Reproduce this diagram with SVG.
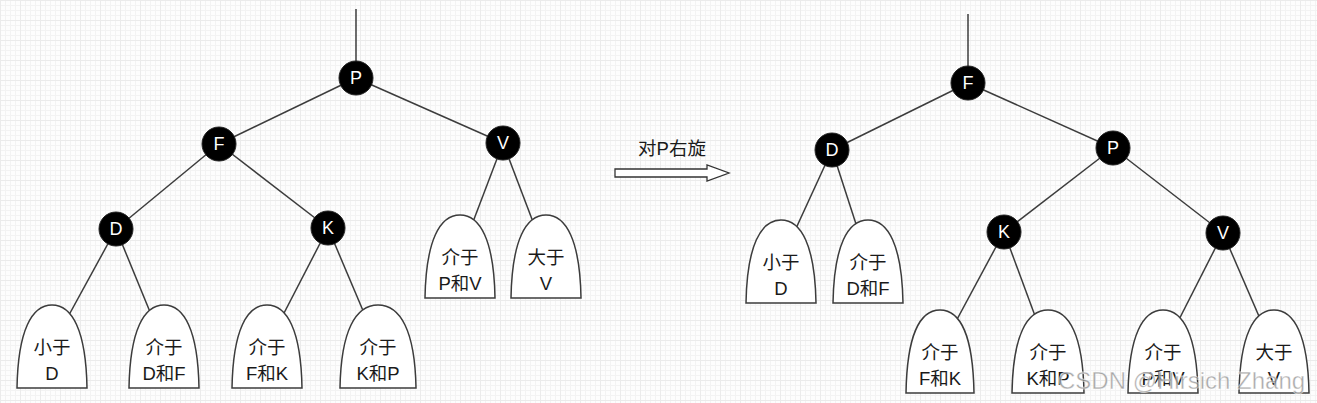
<svg xmlns="http://www.w3.org/2000/svg" width="1317" height="403" viewBox="0 0 1317 403">
  <defs>
    <pattern id="grid" width="20" height="20" patternUnits="userSpaceOnUse">
      <path d="M0 0.5H20M0 5.5H20M0 10.5H20M0 15.5H20M0.5 0V20M5.5 0V20M10.5 0V20M15.5 0V20" stroke="#f3f3f3" stroke-width="1" fill="none"/>
      <path d="M0 0.5H20M0.5 0V20" stroke="#ebebeb" stroke-width="1" fill="none"/>
    </pattern>
    <style>
      .edge { stroke: #3c3c3c; stroke-width: 1.5; fill: none; }
      .circ { fill: #000; stroke: #222; stroke-width: 1; }
      .clabel { fill: #fff; font-family: "Liberation Sans", "Noto Sans CJK SC", sans-serif; font-size: 18px; text-anchor: middle; dominant-baseline: central; }
      .leaf { fill: #fff; stroke: #3c3c3c; stroke-width: 1.5; }
      .ltext { fill: #1a1a1a; font-family: "Liberation Sans", "Noto Sans CJK SC", sans-serif; font-size: 18.5px; text-anchor: middle; dominant-baseline: central; }
      .wm { fill: #8a8a8a; fill-opacity: 0.75; font-family: "Liberation Sans", "Noto Sans CJK SC", sans-serif; font-size: 24px; }
    </style>
  </defs>
  <rect width="1317" height="403" fill="#fdfdfd"/>
  <rect width="1317" height="403" fill="url(#grid)"/>

  <g id="connectors">
    <!-- left tree -->
    <line class="edge" x1="356" y1="9" x2="356" y2="78"/>
    <line class="edge" x1="356" y1="78" x2="219" y2="144"/>
    <line class="edge" x1="356" y1="78" x2="503" y2="143"/>
    <line class="edge" x1="219" y1="144" x2="116" y2="229"/>
    <line class="edge" x1="219" y1="144" x2="328" y2="228"/>
    <line class="edge" x1="116" y1="229" x2="52" y2="346"/>
    <line class="edge" x1="116" y1="229" x2="164" y2="346"/>
    <line class="edge" x1="328" y1="228" x2="267" y2="346"/>
    <line class="edge" x1="328" y1="228" x2="378" y2="346"/>
    <line class="edge" x1="503" y1="143" x2="460" y2="256"/>
    <line class="edge" x1="503" y1="143" x2="546" y2="256"/>
    <!-- right tree -->
    <line class="edge" x1="968" y1="14" x2="968" y2="83"/>
    <line class="edge" x1="968" y1="83" x2="832" y2="150"/>
    <line class="edge" x1="968" y1="83" x2="1113" y2="148"/>
    <line class="edge" x1="832" y1="150" x2="781" y2="261"/>
    <line class="edge" x1="832" y1="150" x2="868" y2="261"/>
    <line class="edge" x1="1113" y1="148" x2="1004" y2="232"/>
    <line class="edge" x1="1113" y1="148" x2="1223" y2="233"/>
    <line class="edge" x1="1004" y1="232" x2="940" y2="351"/>
    <line class="edge" x1="1004" y1="232" x2="1048" y2="351"/>
    <line class="edge" x1="1223" y1="233" x2="1163" y2="351"/>
    <line class="edge" x1="1223" y1="233" x2="1274" y2="351"/>
  </g>

  <!-- left tree nodes -->
  <g id="L-P"><circle class="circ" cx="356" cy="78" r="17"/><text class="clabel" x="356" y="78">P</text></g>
  <g id="L-F"><circle class="circ" cx="219" cy="144" r="17"/><text class="clabel" x="219" y="144">F</text></g>
  <g id="L-V"><circle class="circ" cx="503" cy="143" r="17"/><text class="clabel" x="503" y="143">V</text></g>
  <g id="L-D"><circle class="circ" cx="116" cy="229" r="17"/><text class="clabel" x="116" y="229">D</text></g>
  <g id="L-K"><circle class="circ" cx="328" cy="228" r="17"/><text class="clabel" x="328" y="228">K</text></g>

  <g id="L-leaf1"><path class="leaf" d="M17 388 C18 330 32 305 52 305 C72 305 86 330 87 388 Z"/><text class="ltext" x="52" y="347">小于</text><text class="ltext" x="52" y="373">D</text></g>
  <g id="L-leaf2"><path class="leaf" d="M129 388 C130 330 144 305 164 305 C184 305 198 330 199 388 Z"/><text class="ltext" x="164" y="347">介于</text><text class="ltext" x="164" y="373">D和F</text></g>
  <g id="L-leaf3"><path class="leaf" d="M232 388 C233 330 247 305 267 305 C287 305 301 330 302 388 Z"/><text class="ltext" x="267" y="347">介于</text><text class="ltext" x="267" y="373">F和K</text></g>
  <g id="L-leaf4"><path class="leaf" d="M340 388 C341 330 356 305 378 305 C400 305 415 330 416 388 Z"/><text class="ltext" x="378" y="347">介于</text><text class="ltext" x="378" y="373">K和P</text></g>
  <g id="L-leaf5"><path class="leaf" d="M425 298 C426 240 440 215 460 215 C480 215 494 240 495 298 Z"/><text class="ltext" x="460" y="257">介于</text><text class="ltext" x="460" y="283">P和V</text></g>
  <g id="L-leaf6"><path class="leaf" d="M511 298 C512 240 526 215 546 215 C566 215 580 240 581 298 Z"/><text class="ltext" x="546" y="257">大于</text><text class="ltext" x="546" y="283">V</text></g>

  <!-- arrow -->
  <g id="rotate-arrow">
    <text class="ltext" x="672" y="148">对P右旋</text>
    <path d="M615 169 H707 V165 L729 173 L707 181 V177 H615 Z" fill="#fff" stroke="#333" stroke-width="1.3"/>
  </g>

  <!-- right tree nodes -->
  <g id="R-F"><circle class="circ" cx="968" cy="83" r="17"/><text class="clabel" x="968" y="83">F</text></g>
  <g id="R-D"><circle class="circ" cx="832" cy="150" r="17"/><text class="clabel" x="832" y="150">D</text></g>
  <g id="R-P"><circle class="circ" cx="1113" cy="148" r="17"/><text class="clabel" x="1113" y="148">P</text></g>
  <g id="R-K"><circle class="circ" cx="1004" cy="232" r="17"/><text class="clabel" x="1004" y="232">K</text></g>
  <g id="R-V"><circle class="circ" cx="1223" cy="233" r="17"/><text class="clabel" x="1223" y="233">V</text></g>

  <g id="R-leaf1"><path class="leaf" d="M746 303 C747 245 761 220 781 220 C801 220 815 245 816 303 Z"/><text class="ltext" x="781" y="262">小于</text><text class="ltext" x="781" y="288">D</text></g>
  <g id="R-leaf2"><path class="leaf" d="M833 303 C834 245 848 220 868 220 C888 220 902 245 903 303 Z"/><text class="ltext" x="868" y="262">介于</text><text class="ltext" x="868" y="288">D和F</text></g>
  <g id="R-leaf3"><path class="leaf" d="M906 393 C907 335 920 310 940 310 C960 310 973 335 974 393 Z"/><text class="ltext" x="940" y="352">介于</text><text class="ltext" x="940" y="378">F和K</text></g>
  <g id="R-leaf4"><path class="leaf" d="M1012 393 C1013 335 1027 310 1048 310 C1069 310 1083 335 1084 393 Z"/><text class="ltext" x="1048" y="352">介于</text><text class="ltext" x="1048" y="378">K和P</text></g>
  <g id="R-leaf5"><path class="leaf" d="M1128 393 C1129 335 1143 310 1163 310 C1183 310 1197 335 1198 393 Z"/><text class="ltext" x="1163" y="352">介于</text><text class="ltext" x="1163" y="378">P和V</text></g>
  <g id="R-leaf6"><path class="leaf" d="M1239 393 C1240 335 1254 310 1274 310 C1294 310 1308 335 1309 393 Z"/><text class="ltext" x="1274" y="352">大于</text><text class="ltext" x="1274" y="378">V</text></g>

  <text class="wm" x="1058" y="389" stroke="#ffffff" stroke-opacity="0.6" stroke-width="0.8">CSDN @Hirsich Zhang</text>
</svg>
